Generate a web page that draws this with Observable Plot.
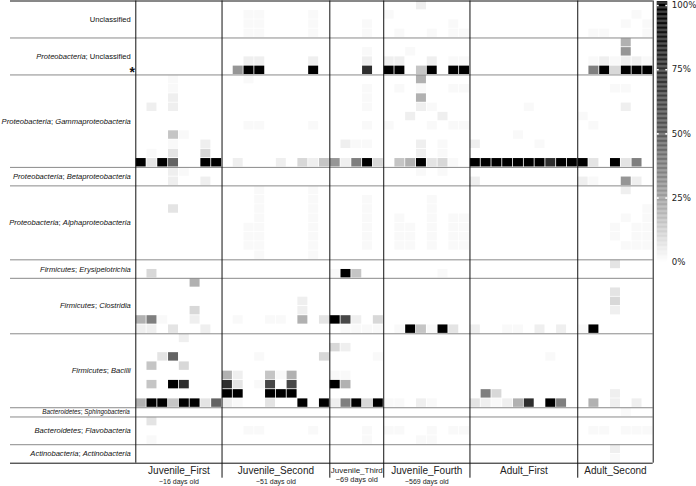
<!DOCTYPE html>
<html><head><meta charset="utf-8">
<script src="https://cdn.jsdelivr.net/npm/d3@7"></script>
<script src="https://cdn.jsdelivr.net/npm/@observablehq/plot@0.6"></script>
<style>
body{margin:0;background:#fff;}
#wrap{position:relative;width:696px;height:486px;overflow:hidden;background:#fff;}
#wrap svg{position:absolute;left:0;top:0;overflow:visible;}
</style></head><body><div id="wrap"></div>
<script>
// ---- data ----
const sampleGroups = ["Juvenile_First","Juvenile_Second","Juvenile_Third","Juvenile_Fourth","Adult_First","Adult_Second"];
const groupAges = ["~16 days old","~51 days old","~69 days old","~569 days old","",""];
const samplesPerGroup = [8,10,5,8,10,7];
const taxa = ["Unclassified","Proteobacteria; Unclassified","Proteobacteria; Gammaproteobacteria",
  "Proteobacteria; Betaproteobacteria","Proteobacteria; Alphaproteobacteria","Firmicutes; Erysipelotrichia",
  "Firmicutes; Clostridia","Firmicutes; Bacilli","Bacteroidetes; Sphingobacteria",
  "Bacteroidetes; Flavobacteria","Actinobacteria; Actinobacteria"];
const otusPerTaxon = [4,4,10,2,8,2,6,8,1,3,2];
const markedOtu = [7];
const legendTicks = [0,25,50,75,100];
// relative abundance (%) per shade code
const shade = {".":0,"1":1.6,"2":4,"3":7,"4":10,"5":15,"6":20,"7":28,"8":36,"9":46,"A":60,"B":75,"X":100};
// one string per OTU row, one code per sample (groups separated by spaces)
const abundance = [
"........ .......... ..... ...2.... .......... .......",
"........ ..11....1. ..... 1....... .......... .....1.",
"........ ..11....1. ...1. ......1. .......... ....1.1",
"........ ..11....1. ...1. .1..1.11 .......... .11...1",
"........ .......... ..... ........ .......... ....6..",
"........ .......... ...1. ..1..... .......... ....7..",
"........ ..22....2. ...2. 22..2.11 .......... .121221",
"........ .7XX....X. ...B. XX.5X.XX .......... .8X4XXX",
"...1.... ..1....... ..... ...6.... .......... .......",
"...1.... .......... ...1. .1.1..11 .......... ...11..",
"...2.... .......... ...1. ...6.... .......... .......",
".2.2.... .......... ...1. ...21... .....1.... ....2..",
"........ .......... ..... ..2..2.. .......... 1......",
"........ ..11....1. ...1. 1...1.11 .......... .1.....",
"...51... .......... ..... ........ ....1..... .......",
"...1..2. .......... .211. ...2.1.. 2.....1... .......",
".1.3..4. .......... ..... ...2.1.. .......... .......",
"X3X9..XX .2...2.425 728X4 .56X341. XXXXXXXBXX X3.X38.",
"...21... .......... ..... ...1.1.. .......... .......",
"...2..2. .......... ..... ........ 2......... 21..72.",
"........ ...1....1. ..... ........ .......... ....2..",
"........ ...1....1. ...1. ....1... .......... .......",
"...3.... ...1....1. ...1. ....1... .......... ......1",
"........ ...1....1. ...1. .1..1.11 .......... ....1.1",
"........ ..11....1. ...1. .11.1.11 .......... ...1.11",
"........ ..11....1. ...1. .11.1.11 .......... ...1.11",
"........ ..11....1. ...1. .11.1.11 .......... ....111",
"........ ...1....1. ..... ........ .......... .......",
"........ .......... ..... ........ .......... ...3...",
".4...... .......... 1X5.. .....1.. .......... .......",
".....6.. .......... ..... ........ .......... .......",
"........ .......... ..... ........ .......... ...3...",
"........ .......2.. ..... ........ .......... ...4...",
".....4.. .......2.. ..... ........ .......... ...2...",
"681..2.. .1..11.6.3 XA2.4 ........ .......... .......",
"22.3..2. .......... .1111 .1X51X3. 2..11.2.2. 1X.....",
"....2... .......... ..... ........ .......... .......",
"........ .......... 42... ........ .......... .......",
"..39.... ...1.....4 ....1 ........ .......1.. .......",
".5..4... .......... ..... ........ .......... .......",
"........ 62..516... 11... ........ .......... .......",
".5.XB... B3.1A.A... X6... ........ .......... .......",
"........ XX..XXX... ..... ........ .84....... ...2...",
"6XX5XX39 21..3..X.X 28X4X 11.21... 32126B.X8. .6.2.2.",
"........ .......... ..... ........ .......... ....1..",
".3...... .......... ..... ........ .......... .......",
"........ ..11....1. ...1. 11..1.11 .......... .11.111",
".1...... .......... ...1. ...11... .......... .......",
"........ .......... ..... ........ .......... ...2...",
"........ .......... ..... ........ .......... ...1..."
];

// ---- derived tables ----
const nCols = d3.sum(samplesPerGroup), nRows = d3.sum(otusPerTaxon);
const cells = abundance.flatMap((s, r) => s.replace(/ /g, "").split("").map((ch, c) => ({row: r, col: c, value: shade[ch]})))
  .filter(d => d.value > 0);
const colBounds = [0, ...d3.cumsum(samplesPerGroup)];
const rowBounds = [0, ...d3.cumsum(otusPerTaxon)];
const taxonCenter = t => { const i = taxa.indexOf(t); return rowBounds[i] + otusPerTaxon[i] / 2; };
const groupCenter = g => { const i = sampleGroups.indexOf(g); return colBounds[i] + samplesPerGroup[i] / 2; };

// ---- styles ----
const colorScale = {type: "linear", domain: [0,25,50,75,100], range: ["#ffffff","#9e9e9e","#585858","#2e2e2e","#000000"], clamp: true};
const sans = "'Liberation Sans', Arial, sans-serif";
const smallTaxa = ["Bacteroidetes; Sphingobacteria"];
const narrowGroups = ["Juvenile_Third"];

const main = Plot.plot({
  width: 696, height: 486,
  marginLeft: 135.3, marginRight: 43.3, marginTop: 0.5, marginBottom: 23.3,
  x: {domain: [0, nCols], axis: null},
  y: {domain: [0, nRows], reverse: true, axis: null},
  color: colorScale,
  style: {fontFamily: sans, background: "transparent", overflow: "visible"},
  marks: [
    Plot.rect(cells, {x1: "col", x2: d => d.col + 1, y1: "row", y2: d => d.row + 1, fill: "value", inset: 0.4}),
    Plot.ruleY(rowBounds.slice(1, -1), {stroke: "#8a8a8a", strokeWidth: 1, insetLeft: -125.3}),
    Plot.ruleY([0, nRows], {stroke: "#111", strokeWidth: 1, insetLeft: -125.3}),
    Plot.ruleX([0, nCols], {stroke: "#111", strokeWidth: 1}),
    Plot.ruleX(colBounds.slice(1, -1), {stroke: "#111", strokeWidth: 1, insetBottom: -15}),
    Plot.text(taxa.filter(t => !smallTaxa.includes(t)), {x: 0, y: taxonCenter, text: d => d, textAnchor: "end", dx: -5, fontSize: 7.6, fill: "#111"}),
    Plot.text(smallTaxa, {x: 0, y: taxonCenter, text: d => d, textAnchor: "end", dx: -6, fontSize: 6.3, fill: "#111"}),
    Plot.text(markedOtu, {x: 0, y: d => d + 0.5, text: () => "*", textAnchor: "middle", lineAnchor: "bottom", dx: -3.6, dy: 6.5, fontSize: 14, fontWeight: "bold", fill: "#111"}),
    Plot.text(sampleGroups.filter(g => !narrowGroups.includes(g)), {x: groupCenter, y: nRows, text: d => d, lineAnchor: "bottom", dy: 11, fontSize: 10, fill: "#222"}),
    Plot.text(narrowGroups, {x: groupCenter, y: nRows, text: d => d, lineAnchor: "bottom", dy: 9.8, fontSize: 8, fill: "#222"}),
    Plot.text(sampleGroups.filter(g => groupAges[sampleGroups.indexOf(g)] && !narrowGroups.includes(g)), {x: groupCenter, y: nRows, text: g => groupAges[sampleGroups.indexOf(g)], lineAnchor: "bottom", dy: 21, fontSize: 7, fill: "#222"}),
    Plot.text(narrowGroups, {x: groupCenter, y: nRows, text: g => groupAges[sampleGroups.indexOf(g)], lineAnchor: "bottom", dy: 18.6, fontSize: 7.4, fill: "#222"})
  ]
});

// mixed italic taxon labels
d3.select(main).selectAll("text").each(function () {
  const t = this.textContent;
  if (!taxa.includes(t)) return;
  const parts = t.split("; ");
  this.textContent = "";
  parts.forEach((p, i) => {
    if (i > 0) { const s = document.createElementNS("http://www.w3.org/2000/svg", "tspan"); s.textContent = "; "; s.setAttribute("font-style", "normal"); this.appendChild(s); }
    const s = document.createElementNS("http://www.w3.org/2000/svg", "tspan");
    s.textContent = p;
    s.setAttribute("font-style", p === "Unclassified" ? "normal" : "italic");
    this.appendChild(s);
  });
});

// colour bar
const rampSteps = d3.range(0, 101.5, 0.5);
const bar = Plot.plot({
  width: 56, height: 270,
  marginLeft: 16.7, marginRight: 28.7, marginTop: 5, marginBottom: 8.3,
  y: {domain: [0, 100], axis: null},
  color: colorScale,
  style: {fontFamily: "'DejaVu Sans', sans-serif", background: "transparent", overflow: "visible"},
  marks: [
    Plot.rect(rampSteps, {y1: d => d, y2: d => d + 0.5, fill: d => d + 0.25}),
    Plot.ruleY(legendTicks, {stroke: "#fff", strokeWidth: 1.5, insetRight: 8.6}),
    Plot.ruleY(legendTicks, {stroke: "#fff", strokeWidth: 1.5, insetLeft: 8.6}),
    Plot.axisY(legendTicks, {anchor: "right", tickSize: 0, tickPadding: 4, tickFormat: d => d + "%", fontSize: 8.6, color: "#222"})
  ]
});
bar.style.left = "640px";
bar.style.top = "0px";

const wrap = document.getElementById("wrap");
wrap.appendChild(main);
wrap.appendChild(bar);
</script>
</body></html>
